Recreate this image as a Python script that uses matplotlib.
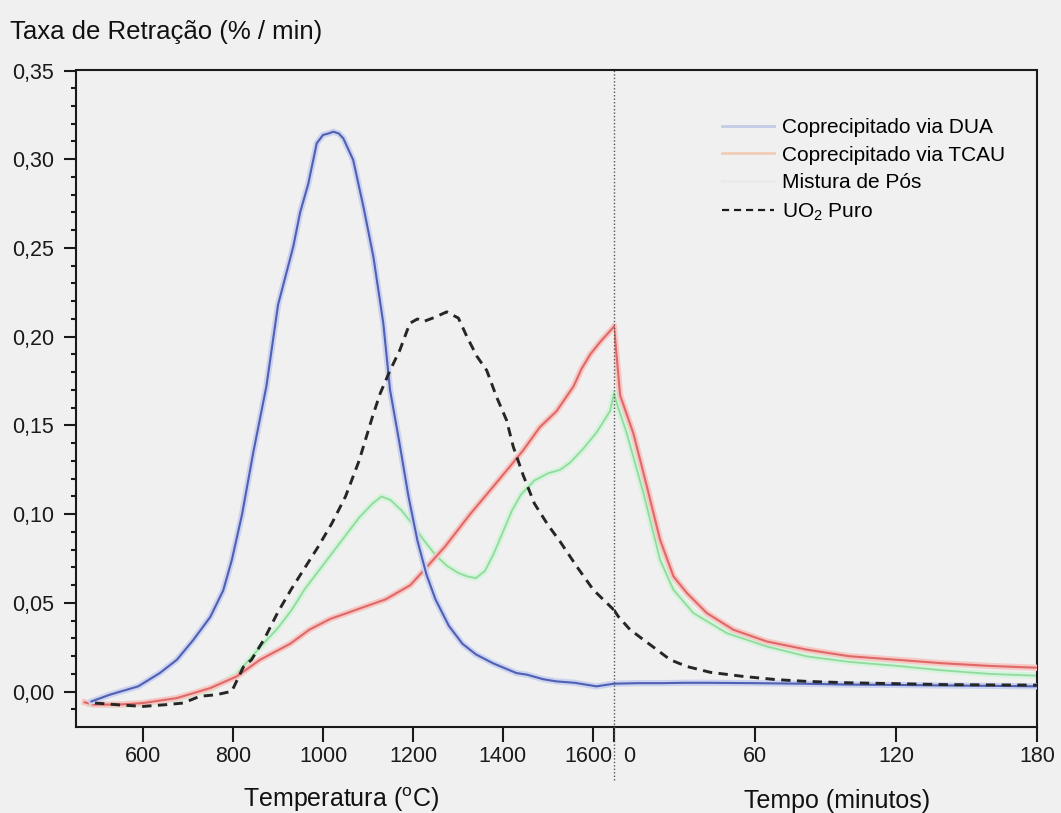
import matplotlib
matplotlib.use("Agg")
import matplotlib.pyplot as plt
import matplotlib.patheffects as pe
from matplotlib.lines import Line2D
from matplotlib.ticker import FixedLocator, MultipleLocator, FuncFormatter
from matplotlib.transforms import ScaledTranslation

plt.rcParams['font.family'] = ['Liberation Sans', 'DejaVu Sans']
plt.rcParams['mathtext.fontset'] = 'custom'
plt.rcParams['mathtext.rm'] = 'Liberation Sans'
plt.rcParams['mathtext.it'] = 'Liberation Sans:italic'

# ---------------- data ----------------
T_MIN, T_END = 450, 1647          # heating ramp (°C)
TIME_MAX = 180                    # isothermal hold (min)

temp_ticks = [600, 800, 1000, 1200, 1400, 1600]
time_ticks = [0, 60, 120, 180]
y_ticks = [0.00, 0.05, 0.10, 0.15, 0.20, 0.25, 0.30, 0.35]

labels = ['Coprecipitado via DUA', 'Coprecipitado via TCAU',
          'Mistura de Pós', 'UO$_2$ Puro']

# Coprecipitado via DUA
dua_T = [485, 526, 589, 637, 675, 711, 749, 778, 797, 820, 845, 874, 900, 934,
         949, 967, 986, 1000, 1012, 1023, 1035, 1045, 1067, 1090, 1112, 1134,
         1149, 1170, 1190, 1210, 1230, 1250, 1280, 1310, 1340, 1378, 1430,
         1453, 1490, 1519, 1560, 1608, 1647]
dua_T_v = [-0.0055, -0.0017, 0.003, 0.0105, 0.018, 0.029, 0.042, 0.057, 0.074,
           0.100, 0.135, 0.172, 0.218, 0.251, 0.270, 0.286, 0.309, 0.3137,
           0.3145, 0.3155, 0.3145, 0.3118, 0.2996, 0.273, 0.245, 0.2076,
           0.170, 0.140, 0.110, 0.085, 0.066, 0.052, 0.037, 0.027, 0.021,
           0.016, 0.0105, 0.0096, 0.007, 0.0058, 0.005, 0.003, 0.0045]
dua_t = [0, 10, 20, 30, 40, 60, 80, 100, 120, 140, 160, 180]
dua_t_v = [0.0045, 0.0048, 0.0048, 0.005, 0.005, 0.0048, 0.0045, 0.004,
           0.0038, 0.0035, 0.0033, 0.003]

# Coprecipitado via TCAU
tcau_T = [470, 489, 550, 600, 675, 749, 808, 860, 927, 970, 1016, 1050, 1083,
          1139, 1194, 1230, 1272, 1327, 1370, 1416, 1445, 1482, 1519, 1557,
          1575, 1594, 1616, 1647]
tcau_T_v = [-0.006, -0.0073, -0.0072, -0.0064, -0.0036, 0.002, 0.0086, 0.018,
            0.027, 0.035, 0.041, 0.044, 0.047, 0.052, 0.060, 0.070, 0.082,
            0.100, 0.113, 0.127, 0.136, 0.149, 0.158, 0.172, 0.182, 0.190,
            0.197, 0.2057]
tcau_t = [0, 0.4, 2.6, 8.2, 9.7, 14, 19.6, 25.3, 31, 39.5, 50.8, 65, 82, 100,
          120, 140, 160, 180]
tcau_t_v = [0.2057, 0.200, 0.167, 0.1457, 0.138, 0.1156, 0.0856, 0.065,
            0.0556, 0.0443, 0.0349, 0.0283, 0.0237, 0.020, 0.018, 0.016,
            0.0145, 0.0135]

# Mistura de Pós
mist_T = [480, 550, 600, 675, 749, 808, 860, 900, 930, 960, 990, 1020, 1050,
          1080, 1110, 1130, 1150, 1175, 1200, 1225, 1250, 1275, 1300, 1320,
          1340, 1360, 1380, 1400, 1420, 1440, 1470, 1500, 1527, 1549, 1579,
          1608, 1638, 1647]
mist_T_v = [-0.007, -0.0075, -0.007, -0.004, 0.001, 0.010, 0.025, 0.036,
            0.046, 0.058, 0.068, 0.078, 0.088, 0.098, 0.106, 0.110, 0.108,
            0.102, 0.094, 0.085, 0.077, 0.071, 0.067, 0.065, 0.064, 0.068,
            0.078, 0.090, 0.102, 0.111, 0.119, 0.123, 0.125, 0.129, 0.137,
            0.146, 0.158, 0.168]
mist_t = [0, 1.8, 5.4, 12.5, 19.6, 25.3, 33.8, 48, 65, 82, 100, 120, 140,
          160, 180]
mist_t_v = [0.168, 0.160, 0.1457, 0.112, 0.0743, 0.0574, 0.0443, 0.033,
            0.0255, 0.0199, 0.0168, 0.0146, 0.012, 0.010, 0.009]

# UO2 Puro
uo2_T = [493, 550, 600, 652, 689, 726, 763, 797, 823, 841, 870, 900, 930, 960,
         990, 1020, 1050, 1080, 1110, 1127, 1149, 1171, 1193, 1210, 1223,
         1249, 1275, 1301, 1320, 1342, 1364, 1386, 1408, 1423, 1445, 1470,
         1500, 1527, 1564, 1601, 1647]
uo2_T_v = [-0.0064, -0.0075, -0.0083, -0.0073, -0.0064, -0.0026, -0.0017,
           0.0002, 0.014, 0.018, 0.030, 0.045, 0.058, 0.070, 0.082, 0.095,
           0.110, 0.130, 0.155, 0.168, 0.181, 0.1926, 0.2076, 0.210, 0.2085,
           0.211, 0.214, 0.2105, 0.200, 0.189, 0.181, 0.166, 0.153, 0.138,
           0.122, 0.106, 0.094, 0.0846, 0.0706, 0.0574, 0.046]
uo2_t = [0, 1.8, 6.8, 12.5, 18.2, 23.9, 31, 41, 55, 69, 82, 100, 120, 140,
         160, 180]
uo2_t_v = [0.046, 0.0424, 0.035, 0.0293, 0.0237, 0.018, 0.0142, 0.0109,
           0.0086, 0.0068, 0.0058, 0.005, 0.0045, 0.004, 0.0038, 0.0037]

# ---------------- figure ----------------
W, H = 1061, 813
BG = '#f0f0f0'
fig = plt.figure(figsize=(W / 100, H / 100), dpi=100, facecolor=BG)

x0, xs, x1 = 75.7, 614, 1037
ytop, ybot = 70.5, 727
axT = fig.add_axes([x0 / W, 1 - ybot / H, (xs - x0) / W, (ybot - ytop) / H])
axt = fig.add_axes([xs / W, 1 - ybot / H, (x1 - xs) / W, (ybot - ytop) / H],
                   sharey=axT)
for a in (axT, axt):
    a.set_facecolor(BG)
    for s in a.spines.values():
        s.set_linewidth(1.5)
        s.set_color('#1a1a1a')

axT.spines['right'].set_visible(False)
axt.spines['left'].set_visible(False)

styles = [
    dict(color='#4f60b4', halo='#ccd3ef', lw=1.5),
    dict(color='#df6868', halo='#f6c8c4', lw=1.5),
    dict(color='#90dc9e', halo='#d6f3db', lw=1.3),
]
series = [(dua_T, dua_T_v, dua_t, dua_t_v),
          (tcau_T, tcau_T_v, tcau_t, tcau_t_v),
          (mist_T, mist_T_v, mist_t, mist_t_v)]
for (tx, tv, hx, hv), st, z in zip(series, styles, [4, 3, 2]):
    eff = [pe.Stroke(linewidth=4.5, foreground=st['halo']), pe.Normal()]
    axT.plot(tx, tv, color=st['color'], lw=st['lw'], zorder=z, path_effects=eff)
    axt.plot(hx, hv, color=st['color'], lw=st['lw'], zorder=z, path_effects=eff)

for a, xx, vv in ((axT, uo2_T, uo2_T_v), (axt, uo2_t, uo2_t_v)):
    a.plot(xx, vv, color='#262626', lw=2.1, dashes=(3.2, 2.2), zorder=5)

axT.set_xlim(T_MIN, T_END)
axt.set_xlim(0, TIME_MAX)
axT.set_ylim(-0.0199, 0.35)

# y axis ticks
axT.yaxis.set_major_locator(FixedLocator(y_ticks))
axT.yaxis.set_minor_locator(MultipleLocator(0.01))
axT.yaxis.set_major_formatter(FuncFormatter(lambda v, p: f'{v:.2f}'.replace('.', ',')))
axT.tick_params(axis='y', which='major', direction='out', length=8.5, width=1.5,
                pad=7, labelsize=15.5, colors='#1a1a1a')
axT.tick_params(axis='y', which='minor', direction='out', length=3.5, width=1.5,
                colors='#1a1a1a')

# x axis ticks
axT.xaxis.set_major_locator(FixedLocator(temp_ticks))
axt.xaxis.set_major_locator(FixedLocator(time_ticks))
for a in (axT, axt):
    a.tick_params(axis='x', which='major', direction='out', length=11, width=1.5,
                  pad=3, labelsize=15.5, colors='#1a1a1a')
axt.tick_params(axis='y', which='both', left=False, right=False, labelleft=False)

fig.canvas.draw()
lbl0 = axt.get_xticklabels()[0]
lbl0.set_horizontalalignment('left')
lbl0.set_transform(lbl0.get_transform() + ScaledTranslation(6.5 / 72, 0, fig.dpi_scale_trans))
lbl16 = axT.get_xticklabels()[-1]
lbl16.set_transform(lbl16.get_transform() + ScaledTranslation(-3 / 72, 0, fig.dpi_scale_trans))

# divider between heating and isothermal hold
fig.add_artist(Line2D([xs / W, xs / W], [1 - 780 / H, 1 - ytop / H],
                      transform=fig.transFigure, color='#555555', lw=1.0,
                      ls=(0, (1, 1.5)), zorder=10))

# texts
fig.text(10 / W, 1 - 32 / H, 'Taxa de Retração (% / min)', fontsize=18.5,
         ha='left', va='center', color='#111111')
fig.text(341 / W, 1 - 800 / H, r'Temperatura ($^{\mathrm{o}}$C)', fontsize=18,
         ha='center', va='center', color='#111111')
fig.text(837 / W, 1 - 801 / H, 'Tempo (minutos)', fontsize=18,
         ha='center', va='center', color='#111111')

# legend
handles = [Line2D([], [], color='#c3cbe6', lw=2.0),
           Line2D([], [], color='#f1cdb6', lw=2.0),
           Line2D([], [], color='#e9ece9', lw=2.0),
           Line2D([], [], color='#1a1a1a', lw=1.6, dashes=(3.2, 2.2))]
fig.legend(handles, labels, loc='upper left', bbox_to_anchor=(722 / W, 1 - 118 / H),
           frameon=False, fontsize=15, handlelength=2.5, handletextpad=0.4,
           borderpad=0, borderaxespad=0, labelspacing=0.42)

fig.savefig('out.png', dpi=100, facecolor=BG)
